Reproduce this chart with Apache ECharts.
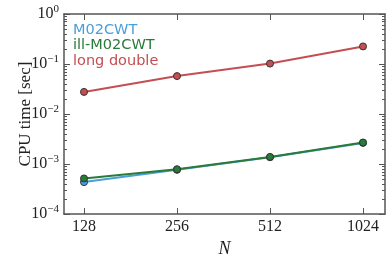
<!DOCTYPE html>
<html><head><meta charset="utf-8">
<script src="https://cdn.jsdelivr.net/npm/echarts@6/dist/echarts.min.js"></script>
<style>html,body{margin:0;padding:0;background:#fff}#c{width:391px;height:263px}</style>
</head><body><div id="c"></div>
<script>
const sizes = [128, 256, 512, 1024];
const m02cwt = [0.000436, 0.000767, 0.00137, 0.00265];
const illM02cwt = [0.000516, 0.00079, 0.00139, 0.0027];
const longDouble = [0.0277, 0.0574, 0.102, 0.225];
const seriesNames = ['M02CWT', 'ill-M02CWT', 'long double'];
const colors = ['#4a9fd8', '#2a7a3a', '#c44e52'];
const yMajor = [1e-4, 1e-3, 1e-2, 1e-1, 1];

const yMinor = [];
for (let e = -4; e < 0; e++) for (let k = 2; k <= 9; k++) yMinor.push(k * Math.pow(10, e));

const axisColor = '#555';
const serif = 'Liberation Serif';
const supMap = {'0':'0','-1':'−1','-2':'−2','-3':'−3','-4':'−4'};

function yAx(pos, minor, labels) {
  return {
    type: 'log', logBase: 10, min: 1e-4, max: 1, position: pos,
    axisLine: { show: !minor, lineStyle: { color: axisColor, width: 1.5 } },
    axisTick: { show: true, inside: true, length: minor ? 3 : 6, lineStyle: { color: axisColor, width: 1 },
      customValues: minor ? yMinor : yMajor },
    axisLabel: { show: labels, customValues: yMajor, margin: 5,
      formatter: v => { const e = Math.round(Math.log10(v)); return '{b|10}{s|' + supMap[String(e)] + '}'; },
      rich: { b: { fontFamily: serif, fontSize: 16, color: '#222' },
              s: { fontFamily: serif, fontSize: 11, color: '#222', verticalAlign: 'top', padding: [0, 0, 9, 0] } } },
    splitLine: { show: false }
  };
}
function xAx(pos, labels) {
  return {
    type: 'log', logBase: 2, position: pos,
    min: 128 / Math.pow(2, 20 / 93), max: 1024 * Math.pow(2, 22 / 93),
    axisLine: { show: true, lineStyle: { color: axisColor, width: 1.5 } },
    axisTick: { show: true, inside: true, length: 6, lineStyle: { color: axisColor, width: 1 }, customValues: sizes },
    axisLabel: { show: labels, customValues: sizes, margin: 5, fontFamily: serif, fontSize: 16, color: '#222',
      formatter: v => String(Math.round(v)) },
    splitLine: { show: false },
    name: labels ? 'N' : '', nameLocation: 'middle', nameGap: 25,
    nameTextStyle: { fontFamily: serif, fontStyle: 'italic', fontSize: 18, color: '#222' }
  };
}

const chart = echarts.init(document.getElementById('c'));
const data = [m02cwt, illM02cwt, longDouble];
chart.setOption({
  animation: false,
  grid: { left: 64, right: 6, top: 14, bottom: 47 },
  legend: {
    left: 68, top: 22, orient: 'vertical', itemWidth: 0, itemHeight: 0, itemGap: 0, icon: 'none',
    padding: 0, selectedMode: false,
    data: seriesNames.map((n, i) => ({ name: n, textStyle: { color: colors[i], fontFamily: 'DejaVu Sans', fontSize: 14.5, lineHeight: 15.5 } }))
  },
  xAxis: [xAx('bottom', true), xAx('top', false)],
  yAxis: [
    Object.assign(yAx('left', false, true), {
      name: 'CPU time [sec]', nameLocation: 'middle', nameGap: 30, nameMoveOverlap: false,
      nameTextStyle: { fontFamily: serif, fontSize: 17, color: '#222' } }),
    yAx('left', true, false), yAx('right', false, false), yAx('right', true, false)
  ],
  series: data.map((d, i) => ({
    name: seriesNames[i], type: 'line', xAxisIndex: 0, yAxisIndex: 0,
    data: sizes.map((s, j) => [s, d[j]]),
    symbol: 'circle', symbolSize: 7,
    lineStyle: { color: colors[i], width: 2 },
    itemStyle: { color: colors[i], borderColor: '#333', borderWidth: 1 }
  }))
});
</script></body></html>
